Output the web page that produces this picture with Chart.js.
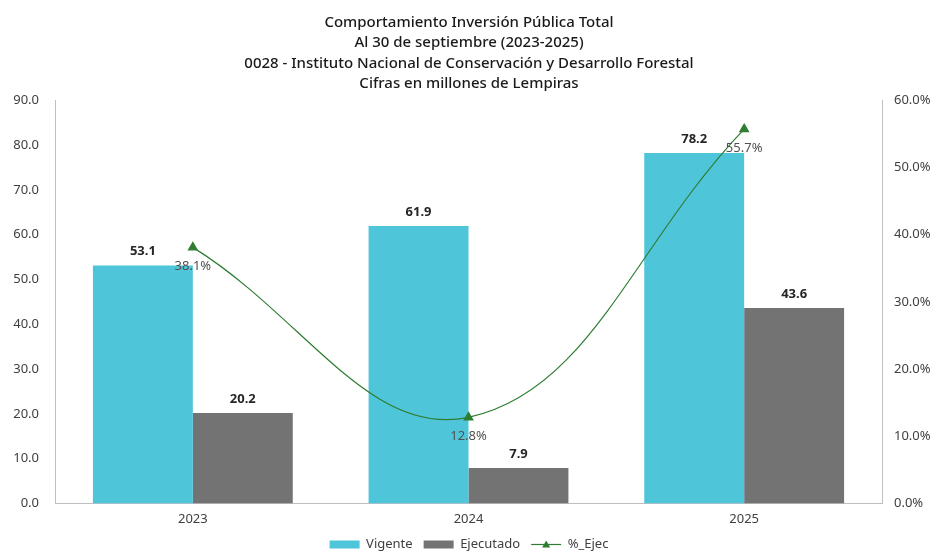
<!DOCTYPE html>
<html>
<head>
<meta charset="utf-8">
<script src="https://cdn.jsdelivr.net/npm/chart.js@4.4.1/dist/chart.umd.min.js"></script>
<style>
  html, body { margin:0; padding:0; background:#fff; }
  #wrap { width:938px; height:556px; }
</style>
</head>
<body>
<div id="wrap"><canvas id="grafico"></canvas></div>
<script>
// Datos
const anios = ['2023', '2024', '2025'];
const vigente = [53.1, 61.9, 78.2];
const ejecutado = [20.2, 7.9, 43.6];
const pctEjec = [38.1, 12.8, 55.7];
const titulo = [
  'Comportamiento Inversión Pública Total',
  'Al 30 de septiembre (2023-2025)',
  '0028 - Instituto Nacional de Conservación y Desarrollo Forestal',
  'Cifras en millones de Lempiras'
];

const fuente = "'Noto Sans', sans-serif";
const verde = '#2E7D32';

// Etiquetas de datos
const etiquetas = {
  id: 'etiquetas',
  afterDatasetsDraw(chart) {
    const c = chart.ctx;
    c.save();
    c.textAlign = 'center';
    c.textBaseline = 'middle';
    [0, 1].forEach(i => {
      const meta = chart.getDatasetMeta(i);
      c.font = 'bold 13px ' + fuente;
      c.fillStyle = '#262626';
      meta.data.forEach((bar, j) => {
        c.fillText(chart.data.datasets[i].data[j].toFixed(1), bar.x, bar.y - 14);
      });
    });
    const metaL = chart.getDatasetMeta(2);
    c.font = '13px ' + fuente;
    c.fillStyle = '#505050';
    metaL.data.forEach((p, j) => {
      c.fillText(pctEjec[j].toFixed(1) + '%', p.x, p.y + 19);
    });
    c.restore();
  },
  afterDraw(chart) {
    // triangulo en la leyenda
    const c = chart.ctx;
    const leg = chart.legend;
    const idx = leg.legendItems.findIndex(it => it.datasetIndex === 2);
    const hb = leg.legendHitBoxes[idx];
    if (!hb) return;
    const cx = hb.left + 15, cy = hb.top + hb.height / 2;
    c.save();
    c.fillStyle = verde;
    c.beginPath();
    c.moveTo(cx, cy - 4);
    c.lineTo(cx + 4, cy + 3);
    c.lineTo(cx - 4, cy + 3);
    c.closePath();
    c.fill();
    c.restore();
  }
};

new Chart(document.getElementById('grafico'), {
  data: {
    labels: anios,
    datasets: [
      { type:'bar', label:'Vigente', data:vigente, backgroundColor:'#4FC5D9', yAxisID:'y',
        categoryPercentage:0.725, barPercentage:1.0, order:2 },
      { type:'bar', label:'Ejecutado', data:ejecutado, backgroundColor:'#737373', yAxisID:'y',
        categoryPercentage:0.725, barPercentage:1.0, order:2 },
      { type:'line', label:'%_Ejec', data:pctEjec, yAxisID:'y1', borderColor:verde, backgroundColor:verde,
        borderWidth:1.2, tension:0.4, pointStyle:'triangle', pointRadius:5, pointBackgroundColor:verde,
        pointBorderColor:verde, order:1 }
    ]
  },
  options: {
    responsive:true,
    maintainAspectRatio:false,
    animation:false,
    layout:{ padding:{ top:8, left:0, right:0, bottom:-5 } },
    plugins:{
      title:{ display:true, text:titulo, color:'#1a1a1a',
        font:{ family:fuente, size:15, weight:'500', lineHeight:1.37 }, padding:{ top:4, bottom:6 } },
      legend:{ position:'bottom',
        labels:{ font:{ family:fuente, size:13 }, color:'#404040', boxHeight:8, padding:11,
          sort:(a, b) => a.datasetIndex - b.datasetIndex,
          generateLabels(chart) {
            const items = Chart.defaults.plugins.legend.labels.generateLabels(chart);
            items.forEach(it => {
              if (it.datasetIndex === 2) { it.pointStyle = 'line'; it.lineWidth = 1.2; }
              else { it.pointStyle = 'rect'; it.lineWidth = 0; }
            });
            return items;
          },
          usePointStyle:true, pointStyleWidth:30 } },
      tooltip:{ enabled:false }
    },
    scales:{
      x:{ grid:{ display:false }, border:{ color:'#BFBFBF' },
        ticks:{ color:'#404040', font:{ family:fuente, size:13 }, padding:0 } },
      y:{ position:'left', min:0, max:90, grid:{ display:false }, border:{ color:'#BFBFBF' },
        ticks:{ stepSize:10, color:'#404040', font:{ family:fuente, size:13 }, padding:8,
          callback:v => v.toFixed(1) },
        afterFit(s) { s.width = 55; } },
      y1:{ position:'right', min:0, max:60, grid:{ display:false }, border:{ color:'#BFBFBF' },
        ticks:{ stepSize:10, color:'#404040', font:{ family:fuente, size:13 }, padding:4,
          callback:v => v.toFixed(1) + '%' },
        afterFit(s) { s.width = 56; } }
    }
  },
  plugins:[etiquetas]
});
</script>
</body>
</html>
